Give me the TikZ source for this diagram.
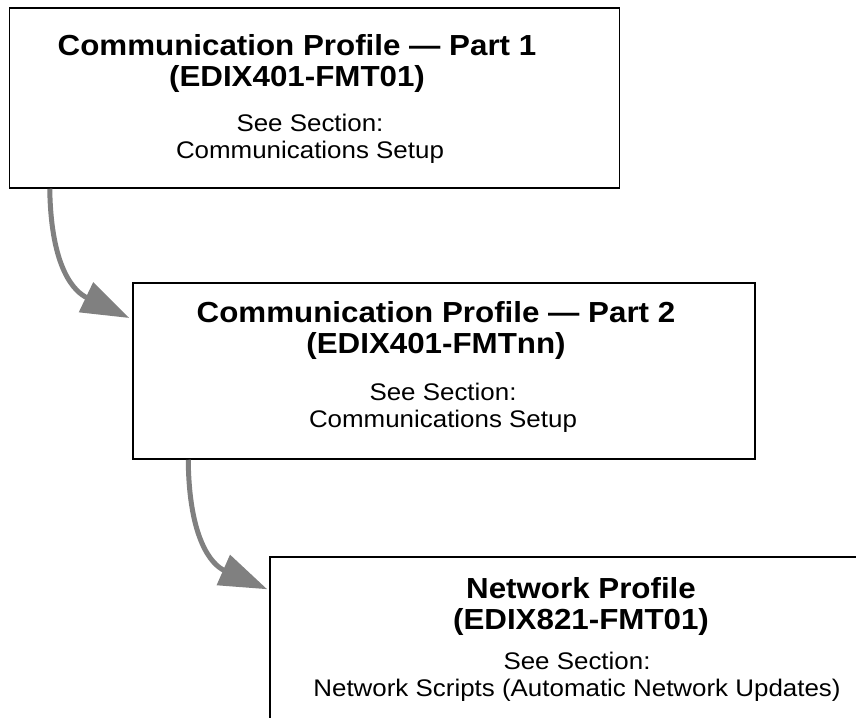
\documentclass[tikz,border=0pt]{standalone}
\usepackage{fontspec}
\setmainfont[FakeStretch=1.08]{Liberation Sans}
\usetikzlibrary{arrows.meta}
\definecolor{flowgray}{RGB}{128,128,128}
\tikzset{
    profbox/.style={draw, line width=1.5pt, inner sep=0pt},
    proftitle/.style={align=center, inner sep=0pt, font=\fontsize{29}{31}\selectfont\bfseries},
    proftext/.style={align=center, inner sep=0pt, font=\fontsize{24}{27}\selectfont},
    flow/.style={draw=flowgray, line width=5pt, -{Triangle[length=48pt,width=32pt]}}
}

\begin{document}
\begin{tikzpicture}[x=1pt,y=-1pt]
        \useasboundingbox (0,0) rectangle (856,717);
        \clip (0,0) rectangle (856,717);

        % boxes
        \node[profbox, minimum width=610pt, minimum height=180pt] at (314.5,98) (b1) {};
        \node[profbox, minimum width=622pt, minimum height=176pt] at (444,371) (b2) {};
        \node[profbox, minimum width=630pt, minimum height=203pt] at (585,658.5) (b3) {};

        % texts
        \node[proftitle] at (297,64) (t1) {Communication Profile — Part 1\\(EDIX401-FMT01)};
        \node[proftext] at (310,138.5) (s1) {See Section:\\Communications Setup};
        \node[proftitle] at (436,330) (t2) {Communication Profile — Part 2\\(EDIX401-FMTnn)};
        \node[proftext] at (443,408) (s2) {See Section:\\Communications Setup};
        \node[proftitle] at (581,606) (t3) {Network Profile\\(EDIX821-FMT01)};
        \node[proftext] at (577,676.5) (s3) {See Section:\\Network Scripts (Automatic Network Updates)};

        % arrows
        \draw[flow] ([xshift=41pt]b1.south west) .. controls (51,270) and (75,292) .. ([shift={(-3,-53)}]b2.west);
        \draw[flow] ([xshift=56pt]b2.south west) .. controls (189,540) and (212,565) .. ([shift={(-2,33)}]b3.north west);
\end{tikzpicture}
\end{document}
